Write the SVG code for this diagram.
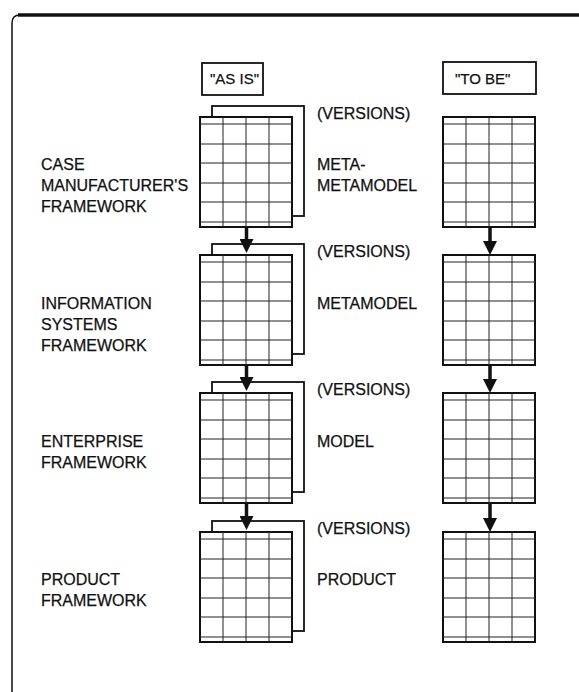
<svg xmlns="http://www.w3.org/2000/svg" xmlns:xlink="http://www.w3.org/1999/xlink" width="579" height="692" viewBox="0 0 579 692">
<style>
.t{font-family:"Liberation Sans",Arial,Helvetica,sans-serif;font-size:16px;fill:#111;stroke:#111;stroke-width:0.25}
.bt{font-family:"Liberation Sans",Arial,Helvetica,sans-serif;font-size:15px;fill:#111;stroke:#111;stroke-width:0.25}
.box{fill:#fff;stroke:#111;stroke-width:1.8}
.back{fill:#fff;stroke:#111;stroke-width:1.8}
.gl{stroke:#222;stroke-width:1;fill:none}
.conn{stroke:#111;stroke-width:3.5;fill:none}
</style>
<defs>
<marker id="ah" viewBox="0 0 14 14" markerWidth="14" markerHeight="14" refX="0" refY="7" orient="auto" markerUnits="userSpaceOnUse">
<path d="M0,0 L14,7 L0,14 Z" fill="#111"/>
</marker>
<g id="grid">
<rect x="0" y="0" width="92" height="110" class="box" style="stroke-width:2"/>
<path class="gl" d="M23,0V110M46,0V110M69,0V110M0,7H92M0,27H92M0,46H92M0,66H92M0,85H92M0,105H92"/>
</g>
</defs>
<rect width="579" height="692" fill="#fff"/>
<g id="frame">
<path d="M12,692 V23 Q12,15 20,15 H579" fill="none" stroke="#111" stroke-width="1.5"/>
<path d="M18,15 H579" stroke="#111" stroke-width="3.5"/>
</g>
<g id="hdr-asis">
<rect class="box" x="202" y="63" width="61" height="32"/>
<text class="bt" x="210" y="84">"AS IS"</text>
</g>
<g id="hdr-tobe">
<rect class="box" x="443" y="62" width="93" height="32"/>
<text class="bt" x="455" y="84">"TO BE"</text>
</g>
<g id="asis-1" transform="translate(200,117)">
<rect class="back" x="12" y="-11" width="92" height="110"/>
<use xlink:href="#grid"/>
</g>
<g id="asis-2" transform="translate(200,255)">
<rect class="back" x="12" y="-11" width="92" height="110"/>
<use xlink:href="#grid"/>
</g>
<g id="asis-3" transform="translate(200,393)">
<rect class="back" x="12" y="-11" width="92" height="110"/>
<use xlink:href="#grid"/>
</g>
<g id="asis-4" transform="translate(200,532)">
<rect class="back" x="12" y="-11" width="92" height="110"/>
<use xlink:href="#grid"/>
</g>
<g id="tobe-1" transform="translate(443,117)"><use xlink:href="#grid"/></g>
<g id="tobe-2" transform="translate(443,255)"><use xlink:href="#grid"/></g>
<g id="tobe-3" transform="translate(443,393)"><use xlink:href="#grid"/></g>
<g id="tobe-4" transform="translate(443,532)"><use xlink:href="#grid"/></g>
<g id="connectors">
<path class="conn" d="M246.5,227 V239" marker-end="url(#ah)"/>
<path class="conn" d="M246.5,365 V377" marker-end="url(#ah)"/>
<path class="conn" d="M246.5,503 V516" marker-end="url(#ah)"/>
<path class="conn" d="M490,227 V241" marker-end="url(#ah)"/>
<path class="conn" d="M490,365 V379" marker-end="url(#ah)"/>
<path class="conn" d="M490,503 V518" marker-end="url(#ah)"/>
</g>
<g id="labels-left">
<text class="t" x="41" y="170">CASE</text>
<text class="t" x="41" y="191">MANUFACTURER'S</text>
<text class="t" x="41" y="212">FRAMEWORK</text>
<text class="t" x="41" y="309">INFORMATION</text>
<text class="t" x="41" y="330">SYSTEMS</text>
<text class="t" x="41" y="351">FRAMEWORK</text>
<text class="t" x="41" y="447">ENTERPRISE</text>
<text class="t" x="41" y="468">FRAMEWORK</text>
<text class="t" x="41" y="585">PRODUCT</text>
<text class="t" x="41" y="606">FRAMEWORK</text>
</g>
<g id="labels-right">
<text class="t" x="317" y="119">(VERSIONS)</text>
<text class="t" x="317" y="170">META-</text>
<text class="t" x="317" y="191">METAMODEL</text>
<text class="t" x="317" y="257">(VERSIONS)</text>
<text class="t" x="317" y="309">METAMODEL</text>
<text class="t" x="317" y="395">(VERSIONS)</text>
<text class="t" x="317" y="447">MODEL</text>
<text class="t" x="317" y="534">(VERSIONS)</text>
<text class="t" x="317" y="585">PRODUCT</text>
</g>
</svg>
